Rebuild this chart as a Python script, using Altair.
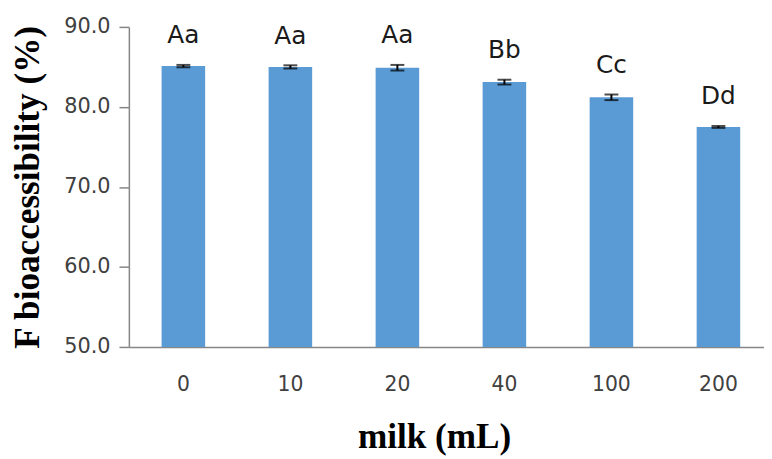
import altair as alt
import pandas as pd

milk = ["0", "10", "20", "40", "100", "200"]
bio = [85.1, 85.0, 84.9, 83.1, 81.2, 77.5]
err = [0.15, 0.2, 0.35, 0.3, 0.35, 0.12]
letters = ["Aa", "Aa", "Aa", "Bb", "Cc", "Dd"]
y_ticks = [50, 60, 70, 80, 90]

df = pd.DataFrame({"milk": milk, "bio": bio, "err": err, "letter": letters})
df["lo"] = df["bio"] - df["err"]
df["hi"] = df["bio"] + df["err"]

xscale = alt.Scale(domain=milk, paddingInner=0.593, paddingOuter=0.264, align=0.579)
yscale = alt.Scale(domain=[50, 90], zero=False, nice=False)

x_axis = alt.Axis(
    title="milk (mL)", labelAngle=0, ticks=False, labelPadding=28,
    labelFont="DejaVu Sans", labelFontSize=20.5, labelColor="#404040",
    domainColor="#868686", domainWidth=1.5,
    titleFont="Liberation Serif", titleFontWeight="bold", titleFontSize=35.5,
    titleColor="black", titleX=308, titleY=101, titleBaseline="alphabetic",
)
y_axis = alt.Axis(
    title="F bioaccessibility (%)", values=y_ticks, format=".1f", grid=False,
    tickSize=10, tickColor="#868686", tickWidth=1.5, labelPadding=9,
    labelFont="DejaVu Sans", labelFontSize=21, labelColor="#404040",
    domainColor="#868686", domainWidth=1.5,
    titleFont="Liberation Serif", titleFontWeight="bold", titleFontSize=35.5,
    titleColor="black", titleX=-91, titleY=161.5, titleBaseline="alphabetic",
    titleAngle=270,
)

X = alt.X("milk:N", sort=milk, scale=xscale, axis=x_axis)
Xn = alt.X("milk:N", sort=milk, scale=xscale)
base = alt.Chart(df)

bars = base.mark_bar(color="#5B9BD5", clip=True).encode(
    x=X, y=alt.Y("bio:Q", scale=yscale, axis=y_axis)
)
rule = base.mark_rule(color="black", strokeWidth=2).encode(
    x=Xn, y=alt.Y("lo:Q", scale=yscale), y2="hi:Q"
)
cap_lo = base.mark_tick(color="black", thickness=2, size=14).encode(
    x=Xn, y=alt.Y("lo:Q", scale=yscale)
)
cap_hi = base.mark_tick(color="black", thickness=2, size=14).encode(
    x=Xn, y=alt.Y("hi:Q", scale=yscale)
)
labels = base.mark_text(
    font="DejaVu Sans", fontSize=25, baseline="alphabetic", dy=-22, color="#1a1a1a"
).encode(
    x=Xn, y=alt.Y("hi:Q", scale=yscale), text="letter:N"
)

chart = (
    alt.layer(bars, rule, cap_lo, cap_hi, labels)
    .properties(
        width=641, height=323,
        autosize=alt.AutoSizeParams(type="none"),
        padding={"left": 122, "top": 17, "right": 0, "bottom": 110},
        background="white",
    )
    .configure_view(stroke=None)
)

chart.save("out.html", embed_options={"renderer": "svg", "actions": False})
